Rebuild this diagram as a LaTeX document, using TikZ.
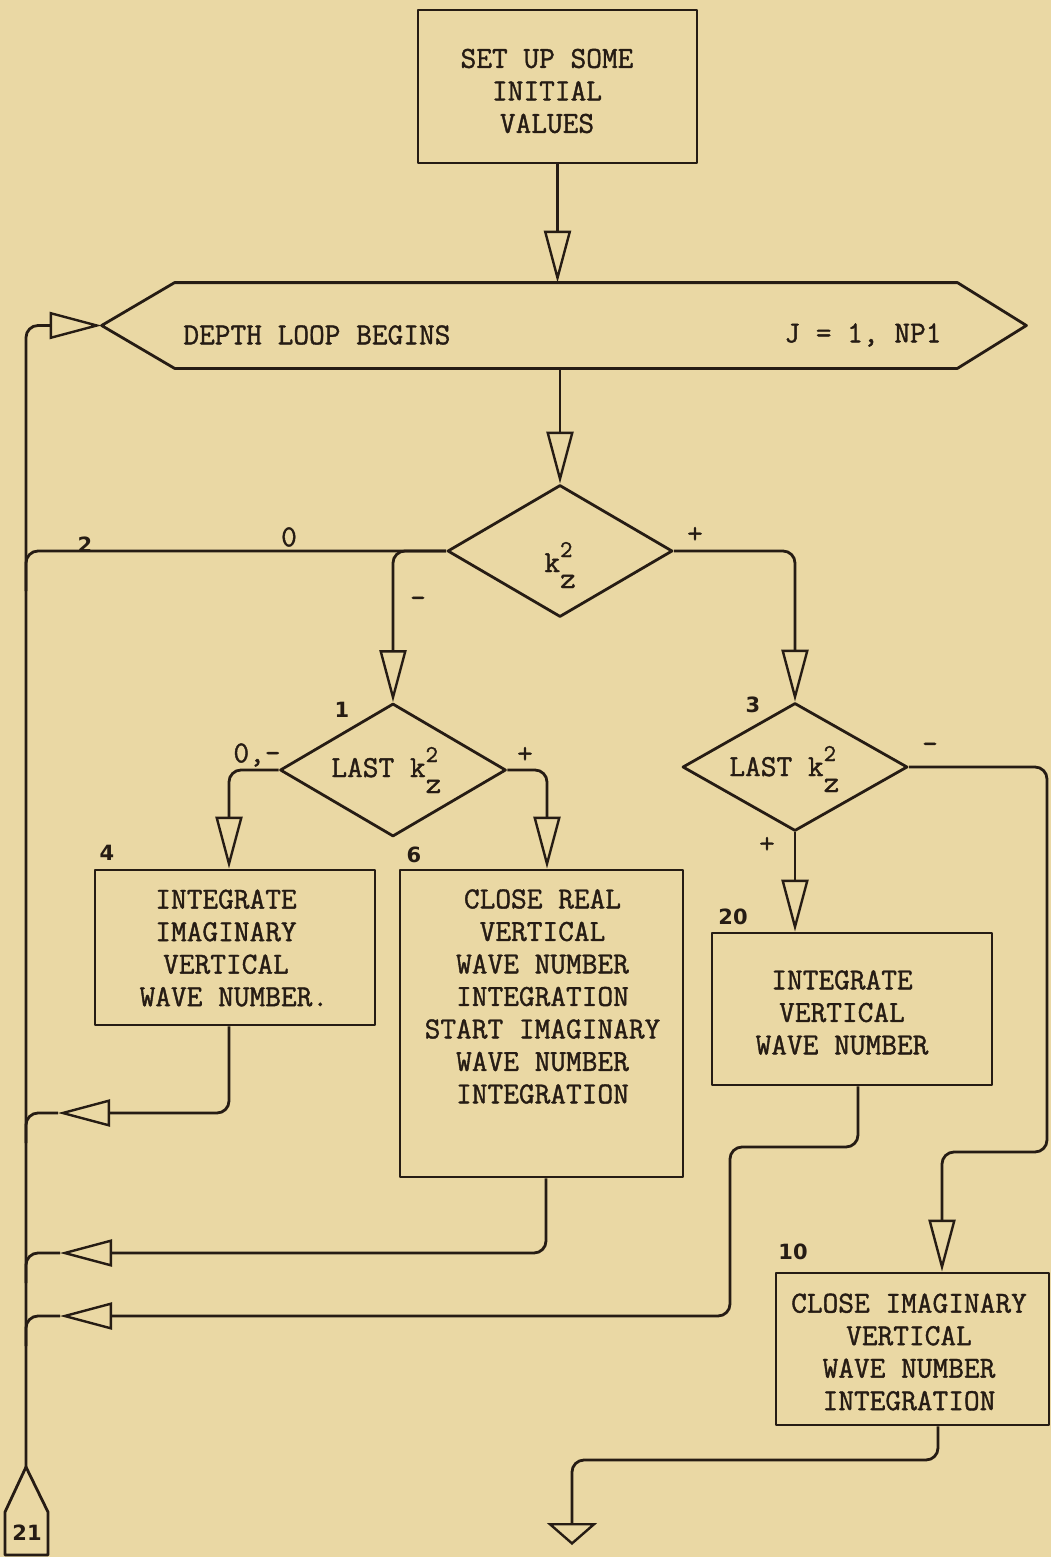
\documentclass[tikz,border=0pt]{standalone}
\usepackage{fontspec}
\newfontfamily\lblfont{DejaVu Sans}
\newfontfamily\twfont{Latin Modern Mono}[FakeBold=1.3]
\usetikzlibrary{arrows.meta,shapes.geometric,calc}
\definecolor{paper}{RGB}{234,216,164}
\definecolor{ink}{RGB}{38,28,20}
% k_z^2 with the exponent and the index stacked
\newcommand{\kzsq}{k\rlap{\raisebox{15pt}{\fontsize{24}{24}\selectfont 2}}\raisebox{-16pt}{z}}
\begin{document}
\begin{tikzpicture}[x=1pt,y=-1pt,line width=2.8pt,color=ink,line join=round,
  box/.style={draw, rectangle, inner sep=0pt},
  test/.style={draw, diamond, inner sep=0pt},
  txt/.style={font=\twfont\fontsize{30.5}{32.5}\selectfont, align=center, inner sep=0pt},
  lbl/.style={font=\lblfont\bfseries\fontsize{21}{21}\selectfont, inner sep=0pt},
  arw/.style={-{Triangle[open,length=52pt,width=27pt,line width=2.4pt]}},
  endarw/.style={-{Triangle[open,length=22pt,width=50pt,line width=2.4pt]}},
  rnd/.style={rounded corners=12pt}
]
\useasboundingbox (0,0) rectangle (1051,1557);
\fill[paper] (0,0) rectangle (1051,1557);

% start box
\node[box, minimum width=279pt, minimum height=153pt] (b0) at (557.5,86.5) {};
\node[txt] (t0) at (547,91) {SET UP SOME\\INITIAL\\VALUES};

% loop header
\node[inner sep=0pt, minimum width=780pt, minimum height=83pt] (hex) at (566,325.5) {};
\coordinate (hexL) at ($(hex.west)+(-73,0)$);
\coordinate (hexR) at ($(hex.east)+(69,0)$);
\draw (hex.north west) -- (hex.north east) -- (hexR) -- (hex.south east)
      -- (hex.south west) -- (hexL) -- cycle;
\node[txt, anchor=west] (tdepth) at (182,335) {DEPTH LOOP BEGINS};
\node[txt, anchor=west] (tj) at (783,335) {J = 1, NP1};

% decisions
\node[test, minimum width=225pt, minimum height=132pt] (kz) at (560,551) {};
\node[txt, anchor=base west] (tkz) at (543,572) {\kzsq};
\node[test, minimum width=226pt, minimum height=133pt] (d1) at (393,770) {};
\node[txt, anchor=base west] (td1) at (330,777) {LAST \kzsq};
\node[test, minimum width=225pt, minimum height=128pt] (d3) at (795,767) {};
\node[txt, anchor=base west] (td3) at (728,776) {LAST \kzsq};

% process boxes
\node[box, minimum width=280pt, minimum height=155pt] (b4) at (235,947.5) {};
\node[txt] (t4) at (226,948) {INTEGRATE\\IMAGINARY\\VERTICAL\\WAVE NUMBER\rlap{.}};
\node[box, minimum width=283pt, minimum height=307pt] (b6) at (541.5,1023.5) {};
\node[txt] (t6) at (542.5,996.5) {CLOSE REAL\\VERTICAL\\WAVE NUMBER\\INTEGRATION\\START IMAGINARY\\WAVE NUMBER\\INTEGRATION};
\node[box, minimum width=280pt, minimum height=152pt] (b20) at (852,1009) {};
\node[txt] (t20) at (842,1012.5) {INTEGRATE\\VERTICAL\\WAVE NUMBER};
\node[box, minimum width=273pt, minimum height=152pt] (b10) at (912.5,1349) {};
\node[txt] (t10) at (909,1352) {CLOSE IMAGINARY\\VERTICAL\\WAVE NUMBER\\INTEGRATION};

% off-page connector
\coordinate (p21) at (26,1467);
\draw (5,1555) -- (5,1512) -- (p21) -- (48,1512) -- (48,1555) -- cycle;
\node[lbl] (n21) at (27,1533) {21};

% statement numbers
\node[lbl] (n2) at (85,545) {2};
\node[lbl] (n1) at (342,710) {1};
\node[lbl] (n3) at (753,705) {3};
\node[lbl] (n4) at (107,853) {4};
\node[lbl] (n6) at (414,855) {6};
\node[lbl] (n20) at (733,917) {20};
\node[lbl] (n10) at (793,1252) {10};

% branch signs
\node[txt] (z0) at (289,537) {0};
\node[txt] (zp) at (695,535) {+};
\node[txt] (zm) at (418,602) {-};
\node[txt] (l1m) at (257,755) {0,-};
\node[txt] (l1p) at (525,755) {+};
\node[txt] (l3m) at (930,748) {-};
\node[txt] (l3p) at (767,845) {+};

% main flow
\draw[arw] (b0.south) -- (b0.south |- hex.north);
\draw[arw] (kz.north |- hex.south) -- (kz.north);
\draw[arw, rnd] (kz.west) -| (d1.north);
\draw[rnd] (kz.west) -- (kz.west -| p21) -- ++(0,40);
\draw[arw, rnd] (kz.east) -| (d3.north);
\draw[arw, rnd] (d1.west) -| ([xshift=-6pt]b4.north);
\draw[arw, rnd] (d1.east) -| ([xshift=5.5pt]b6.north);
\draw[arw] (d3.south) -- (d3.south |- b20.north);
\coordinate (r1) at (1047,1152);
\draw[arw, rnd] (d3.east) -| (r1) -| ([xshift=29.5pt]b10.north);

% returns into the loop line
\coordinate (m4) at (58,1113);
\coordinate (m6) at (60,1253);
\coordinate (m20) at (60,1316);
\draw[arw, rnd] ([xshift=-6pt]b4.south) |- (m4);
\draw[rnd] (m4) -- (m4 -| p21) -- ++(0,30);
\draw[arw, rnd] ([xshift=4.5pt]b6.south) |- (m6);
\draw[rnd] (m6) -- (m6 -| p21) -- ++(0,30);
\coordinate (q1) at (730,1147);
\draw[arw, rnd] ([xshift=6pt]b20.south) |- (q1) |- (m20);
\draw[rnd] (m20) -- (m20 -| p21) -- ++(0,30);

% exit of the loop body
\coordinate (q2) at (572,1460);
\coordinate (exit) at (572,1545);
\draw[endarw, rnd] ([xshift=25.5pt]b10.south) |- (q2) -- (exit);

% loop back to the header
\draw[arw, rnd] (p21) |- (hexL);
\end{tikzpicture}
\end{document}
